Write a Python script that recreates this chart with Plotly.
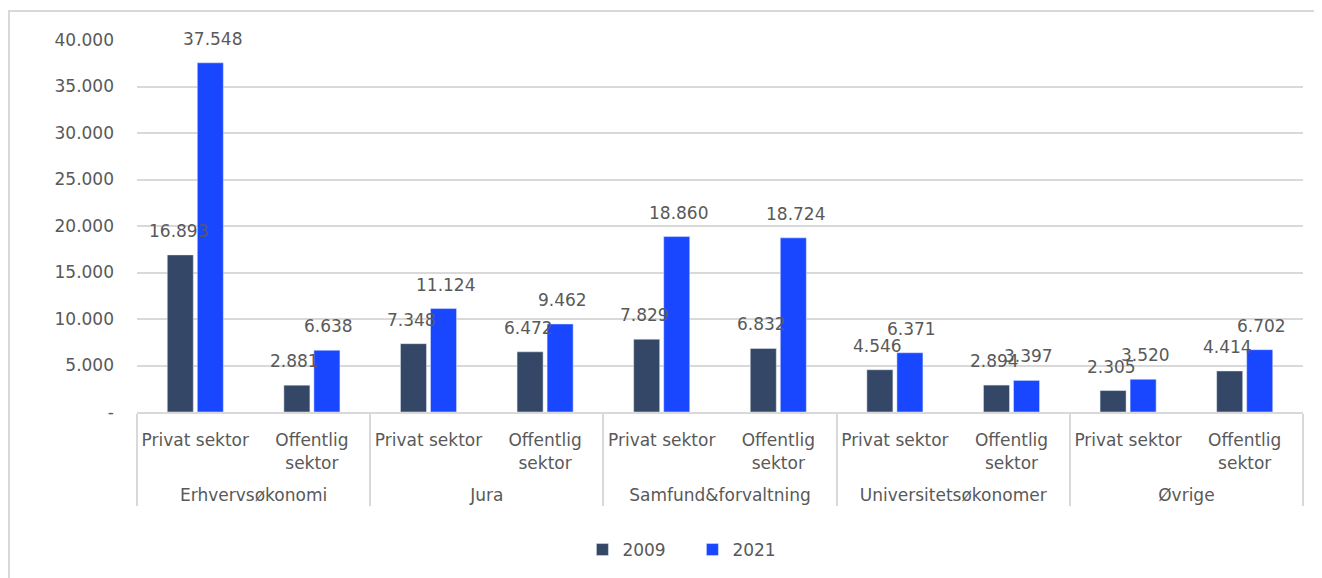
import plotly.graph_objects as go

groups = ["Erhvervsøkonomi", "Jura", "Samfund&forvaltning", "Universitetsøkonomer", "Øvrige"]
sectors = ["Privat sektor", "Offentlig<br>sektor"]
vals_2009 = [16893, 2881, 7348, 6472, 7829, 6832, 4546, 2894, 2305, 4414]
vals_2021 = [37548, 6638, 11124, 9462, 18860, 18724, 6371, 3397, 3520, 6702]
ytick_vals = [0, 5000, 10000, 15000, 20000, 25000, 30000, 35000, 40000]
ytick_text = ["-", "5.000", "10.000", "15.000", "20.000", "25.000", "30.000", "35.000", "40.000"]

x_grp = [" <br>" + g for g in groups for _ in sectors]
x_sub = [s for _ in groups for s in sectors]

FONT = "DejaVu Sans"
TXT = "#595959"
C09 = "#354766"
C21 = "#1946FF"

def fmt(v):
    return f"{v:,}".replace(",", ".")

fig = go.Figure()
fig.add_trace(go.Bar(x=[x_grp, x_sub], y=vals_2009, name="2009", marker_color=C09))
fig.add_trace(go.Bar(x=[x_grp, x_sub], y=vals_2021, name="2021", marker_color=C21))

ann = []
for i, (a, b) in enumerate(zip(vals_2009, vals_2021)):
    ann.append(dict(x=i, y=a, xref="x", yref="y", text=fmt(a), showarrow=False,
                    xshift=-17, yshift=24, font=dict(family=FONT, size=17, color=TXT)))
    ann.append(dict(x=i, y=b, xref="x", yref="y", text=fmt(b), showarrow=False,
                    xshift=17, yshift=24, font=dict(family=FONT, size=17, color=TXT)))

fig.update_layout(
    width=1322, height=578,
    margin=dict(l=129, r=27, t=32, b=174),
    paper_bgcolor="white", plot_bgcolor="white",
    font=dict(family=FONT, size=17, color=TXT),
    barmode="group", bargap=0.485, bargroupgap=0.133,
    showlegend=True,
    legend=dict(orientation="h", x=0.382, xanchor="left", y=-0.371, yanchor="middle",
                font=dict(family=FONT, size=17, color=TXT), itemwidth=30,
                entrywidth=65, entrywidthmode="pixels"),
    annotations=ann,
    shapes=[dict(type="rect", xref="paper", yref="paper", x0=-0.1098, x1=1.05, y0=-0.5, y1=1.078,
                 line=dict(color="#d9d9d9", width=2), fillcolor="rgba(0,0,0,0)", layer="below")],
)
fig.update_yaxes(range=[0, 40000], tickvals=ytick_vals, ticktext=ytick_text,
                 showgrid=True, gridcolor="#d9d9d9", gridwidth=1.5, zeroline=False,
                 ticks="", ticklabelstandoff=22, showline=False,
                 tickfont=dict(family=FONT, size=17, color=TXT))
fig.update_xaxes(type="multicategory", showline=True, linecolor="#d9d9d9", linewidth=2,
                 showdividers=True, dividercolor="#d9d9d9", dividerwidth=2,
                 ticks="", ticklabelstandoff=12, tickfont=dict(family=FONT, size=17, color=TXT))

fig.write_html("out.html")
